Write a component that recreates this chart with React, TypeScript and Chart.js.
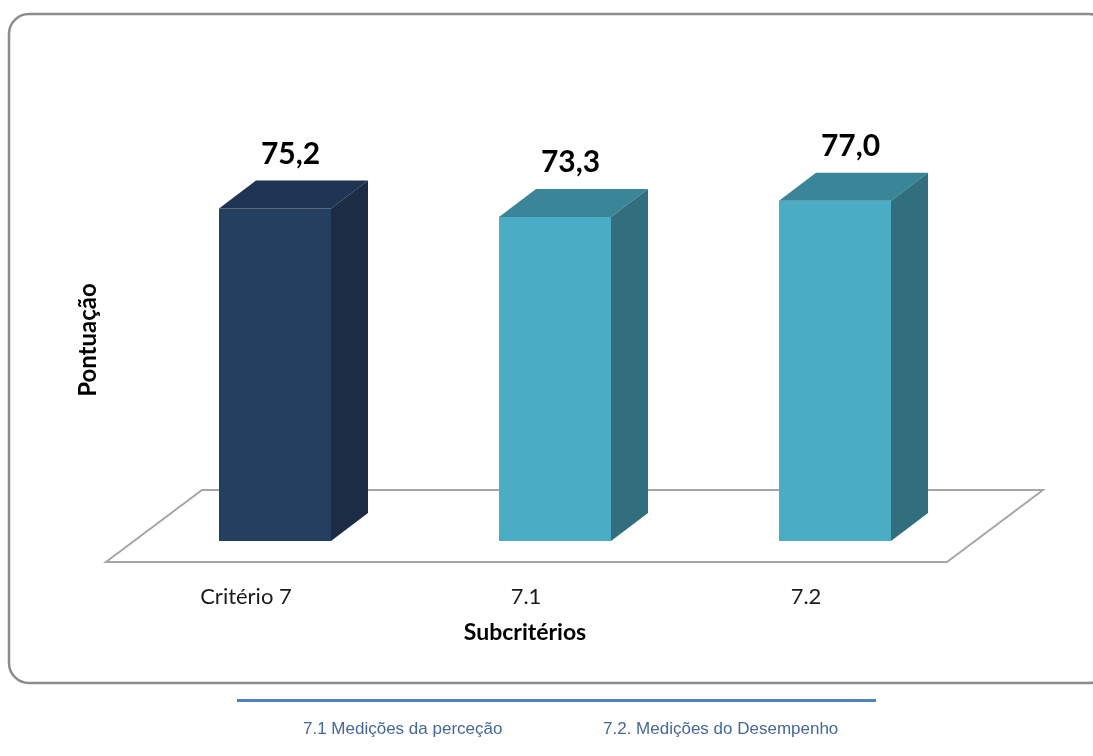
import React, { useEffect, useRef } from 'react';
import { Chart, registerables } from 'chart.js';

Chart.register(...registerables);

const categories = ['Critério 7', '7.1', '7.2'];
const scores = [75.2, 73.3, 77.0];
const valueLabels = ['75,2', '73,3', '77,0'];
const frontColors = ['#243f60', '#4bacc6', '#4bacc6'];
const sideColors = ['#1b2c44', '#316f7f', '#316f7f'];
const topColors = ['#1f3452', '#3a8597', '#3a8597'];
const legendItems = ['7.1 Medições da perceção', '7.2. Medições do Desempenho'];
const xTitle = 'Subcritérios';
const yTitle = 'Pontuação';

const DX = 37;
const DY = 28;

const framePlugin = {
  id: 'frame3d',
  beforeDatasetsDraw(chart: any) {
    const ctx = chart.ctx;
    const { left, right, bottom } = chart.chartArea;
    ctx.save();
    ctx.strokeStyle = '#8c8c8c';
    ctx.lineWidth = 2.5;
    ctx.beginPath();
    ctx.roundRect(9, 14, 1100, 669, 20);
    ctx.stroke();
    const fy = bottom + 21;
    const by = bottom - 51;
    ctx.beginPath();
    ctx.moveTo(left - 29, fy);
    ctx.lineTo(right - 28, fy);
    ctx.lineTo(right + 68, by);
    ctx.lineTo(left + 67, by);
    ctx.closePath();
    ctx.fillStyle = '#ffffff';
    ctx.fill();
    ctx.strokeStyle = '#a6a6a6';
    ctx.lineWidth = 2;
    ctx.stroke();
    ctx.restore();
  },
  afterDatasetsDraw(chart: any) {
    const ctx = chart.ctx;
    const meta = chart.getDatasetMeta(0);
    ctx.save();
    meta.data.forEach((bar: any, i: number) => {
      const { x, y, base, width } = bar.getProps(['x', 'y', 'base', 'width'], true);
      const l = x - width / 2;
      const r = x + width / 2;
      ctx.fillStyle = topColors[i];
      ctx.beginPath();
      ctx.moveTo(l, y);
      ctx.lineTo(l + DX, y - DY);
      ctx.lineTo(r + DX, y - DY);
      ctx.lineTo(r, y);
      ctx.closePath();
      ctx.fill();
      ctx.fillStyle = sideColors[i];
      ctx.beginPath();
      ctx.moveTo(r, y);
      ctx.lineTo(r + DX, y - DY);
      ctx.lineTo(r + DX, base - DY);
      ctx.lineTo(r, base);
      ctx.closePath();
      ctx.fill();
      ctx.fillStyle = '#000000';
      ctx.font = 'bold 30px Lato';
      ctx.textAlign = 'center';
      ctx.textBaseline = 'alphabetic';
      ctx.fillText(valueLabels[i], x + DX / 2 - 3, y - DY - 27 + 10);
    });
    ctx.restore();
  },
  afterDraw(chart: any) {
    const ctx = chart.ctx;
    const { left, right, top, bottom } = chart.chartArea;
    ctx.save();
    ctx.fillStyle = '#000000';
    ctx.textAlign = 'center';
    ctx.textBaseline = 'middle';
    ctx.font = 'bold 23px Lato';
    ctx.fillText(xTitle, (left + right) / 2 - 30, bottom + 92);
    ctx.font = 'bold 24px Lato';
    ctx.translate(left - 47, (top + bottom) / 2 + 20);
    ctx.rotate(-Math.PI / 2);
    ctx.fillText(yTitle, 0, 0);
    ctx.restore();
  },
};

export default function App() {
  const ref = useRef<HTMLCanvasElement | null>(null);
  useEffect(() => {
    if (!ref.current) return;
    const chart = new Chart(ref.current, {
      type: 'bar',
      data: {
        labels: categories,
        datasets: [
          {
            data: scores,
            backgroundColor: frontColors,
            borderWidth: 0,
            categoryPercentage: 0.4,
            barPercentage: 1,
          },
        ],
      },
      options: {
        responsive: false,
        animation: false,
        devicePixelRatio: 1,
        layout: { padding: { left: 135, right: 118, top: 99, bottom: 115 } },
        plugins: { legend: { display: false }, tooltip: { enabled: false } },
        scales: {
          x: {
            grid: { display: false, drawTicks: false },
            border: { display: false },
            ticks: {
              padding: 43,
              labelOffset: -29,
              maxRotation: 0,
              color: '#1a1a1a',
              font: { family: 'Lato', size: 22 },
            },
            afterFit: (s: any) => {
              s.height = 100;
            },
          },
          y: { display: false, min: 0, max: 100 },
        },
      },
      plugins: [framePlugin],
    } as any);
    return () => chart.destroy();
  }, []);

  const legendStyle: React.CSSProperties = {
    position: 'absolute',
    top: 719,
    fontFamily: '"Liberation Sans", Arial, sans-serif',
    fontSize: 17,
    color: '#44689c',
    whiteSpace: 'nowrap',
    lineHeight: '20px',
  };

  return (
    <div style={{ position: 'absolute', left: 0, top: 0, width: 1093, height: 756, overflow: 'hidden', background: '#fff' }}>
      <canvas ref={ref} width={1093} height={756} style={{ position: 'absolute', left: 0, top: 0 }} />
      <div style={{ position: 'absolute', left: 237, top: 699, width: 639, height: 3, background: '#4f81bd' }} />
      <span style={{ ...legendStyle, left: 303 }}>{legendItems[0]}</span>
      <span style={{ ...legendStyle, left: 603 }}>{legendItems[1]}</span>
    </div>
  );
}
